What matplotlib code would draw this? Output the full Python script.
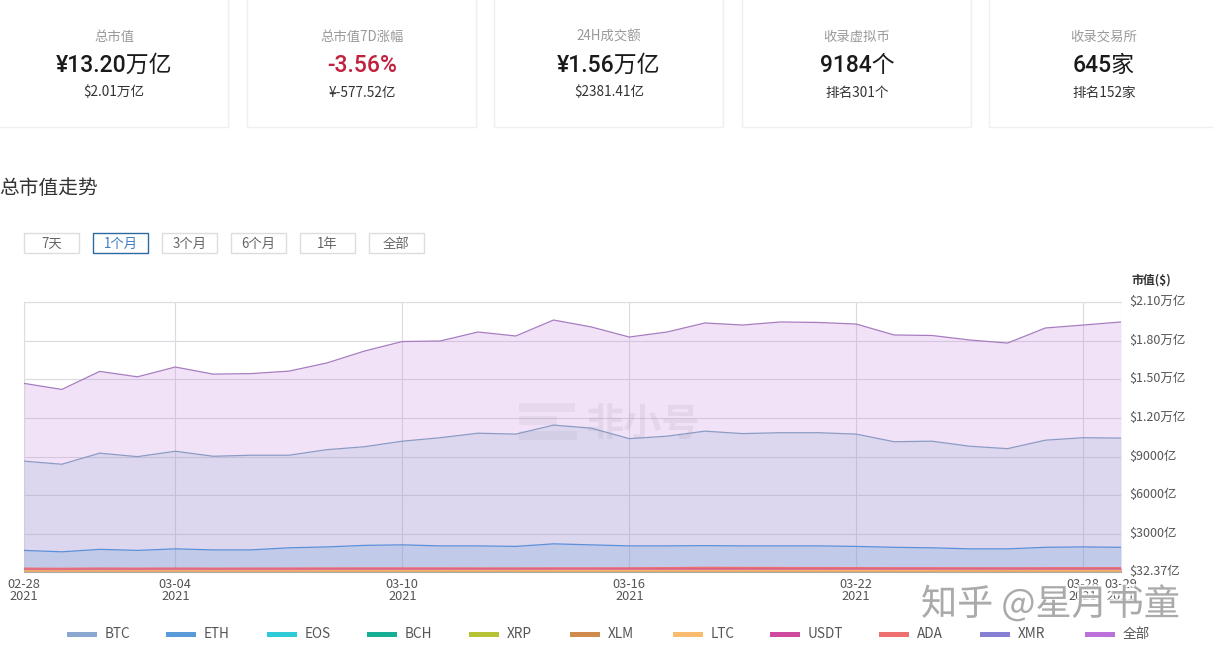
import matplotlib
matplotlib.use('Agg')
import matplotlib.pyplot as plt
import matplotlib.patheffects as pe
from matplotlib.patches import Rectangle, FancyBboxPatch
from matplotlib.transforms import offset_copy

plt.rcParams['font.family'] = ['Noto Sans CJK SC', 'DejaVu Sans']
num_font = ['Roboto', 'Noto Sans CJK SC', 'DejaVu Sans']

# Summary cards
card_titles = ['总市值', '总市值7D涨幅', '24H成交额', '收录虚拟币', '收录交易所']
card_values = ['¥13.20万亿', '-3.56%', '¥1.56万亿', '9184个', '645家']
card_subs = ['$2.01万亿', '¥-577.52亿', '$2381.41亿', '排名301个', '排名152家']

range_buttons = ['7天', '1个月', '3个月', '6个月', '1年', '全部']

# Chart data, market cap in 亿 USD, one value per day from 02-28 to 03-29
days = list(range(30))
total = [14680, 14210, 15610, 15190, 15950, 15400, 15440, 15630, 16260, 17190,
         17930, 17970, 18670, 18360, 19600, 19060, 18280, 18670, 19370, 19210,
         19450, 19410, 19290, 18440, 18400, 18050, 17810, 18980, 19210, 19450]
btc = [8640, 8400, 9260, 8990, 9410, 9020, 9100, 9100, 9530, 9760,
       10190, 10460, 10810, 10740, 11440, 11200, 10390, 10580, 10970, 10780,
       10850, 10850, 10740, 10150, 10190, 9800, 9610, 10270, 10460, 10430]
eth = [1710, 1600, 1790, 1710, 1830, 1750, 1750, 1910, 1980, 2100,
       2140, 2060, 2060, 2020, 2220, 2140, 2060, 2060, 2080, 2060,
       2060, 2060, 2020, 1950, 1910, 1830, 1830, 1950, 1980, 1950]
ada = [330, 320, 340, 330, 340, 330, 335, 340, 345, 350,
       350, 350, 345, 345, 350, 350, 355, 370, 395, 385,
       380, 375, 370, 360, 360, 355, 350, 360, 365, 365]
usdt = [280, 280, 280, 285, 285, 285, 285, 290, 290, 290,
        295, 295, 295, 300, 300, 300, 305, 305, 305, 305,
        310, 310, 310, 315, 315, 315, 320, 320, 320, 320]
xrp = [190, 185, 195, 190, 200, 195, 195, 200, 200, 205,
       205, 205, 215, 215, 225, 220, 215, 220, 225, 225,
       235, 240, 250, 240, 240, 235, 230, 240, 250, 255]
ltc = [115, 110, 120, 115, 125, 120, 120, 120, 125, 130,
       130, 130, 135, 130, 140, 140, 130, 130, 135, 130,
       130, 130, 130, 125, 125, 120, 120, 125, 125, 125]
xlm = [85, 80, 90, 85, 90, 85, 85, 85, 90, 90,
       95, 95, 95, 95, 95, 90, 85, 85, 90, 90,
       90, 90, 85, 85, 85, 80, 80, 85, 90, 90]
bch = [95, 90, 100, 95, 100, 95, 95, 95, 100, 100,
       105, 105, 105, 105, 110, 105, 100, 100, 105, 100,
       100, 100, 100, 95, 95, 90, 85, 90, 95, 95]
xmr = [40, 38, 40, 38, 40, 38, 38, 38, 40, 40,
       42, 42, 42, 42, 42, 40, 40, 40, 40, 40,
       40, 40, 40, 38, 38, 38, 36, 38, 38, 38]
eos = [35, 33, 35, 33, 35, 33, 33, 33, 35, 35,
       37, 37, 37, 37, 38, 36, 35, 35, 35, 35,
       35, 35, 35, 33, 33, 33, 32, 33, 33, 33]

date_ticks = [0, 4, 10, 16, 22, 28, 29]
date_labels = ['02-28\n2021', '03-04\n2021', '03-10\n2021', '03-16\n2021',
               '03-22\n2021', '03-28\n2021', '03-29\n2021']
y_ticks = [32.37, 3000, 6000, 9000, 12000, 15000, 18000, 21000]
y_labels = ['$32.37亿', '$3000亿', '$6000亿', '$9000亿', '$1.20万亿',
            '$1.50万亿', '$1.80万亿', '$2.10万亿']

legend_names = ['BTC', 'ETH', 'EOS', 'BCH', 'XRP', 'XLM', 'LTC', 'USDT', 'ADA', 'XMR', '全部']
legend_colors = ['#8aa8cf', '#5b9ad9', '#2fcbd8', '#17ae96', '#b5c334', '#cf8b4e',
                 '#f8bb6f', '#cf4a9e', '#ee6f70', '#8580d4', '#bb71d9']
series_color = dict(zip(legend_names, legend_colors))

W, H = 1213, 651
fig = plt.figure(figsize=(W / 100, H / 100), dpi=100, facecolor='white')

# Chart area
ax = fig.add_axes([24 / W, 1 - 572 / H, 1097 / W, 270 / H], zorder=1)
ax.set_facecolor('white')

# tan coins go last so the bottom band reads orange like the original
layers = [('全部', total), ('BTC', btc), ('ETH', eth), ('USDT', usdt), ('ADA', ada),
          ('XRP', xrp), ('EOS', eos), ('XMR', xmr), ('BCH', bch), ('XLM', xlm), ('LTC', ltc)]
line_tint = {'全部': '#a77cc0', 'BTC': '#8b9cc4', 'ETH': '#5b90d8'}
for i, (name, vals) in enumerate(layers):
    c = series_color[name]
    big = name in line_tint
    if name in ('EOS', 'XMR', 'BCH', 'XRP'):
        continue_alpha = 0.25
    else:
        continue_alpha = 0.2 if big else 0.55
    ax.fill_between(days, 0, vals, color=c, alpha=continue_alpha, lw=0, zorder=3 + i)
    if name in ('全部', 'BTC', 'ETH', 'ADA', 'USDT', 'XLM', 'LTC'):
        ax.plot(days, vals, color=line_tint.get(name, c), lw=0.9, zorder=3 + i)

ax.set_xlim(0, 29)
ax.set_ylim(32.37, 21000)
ax.set_xticks(date_ticks)
ax.set_xticklabels(date_labels, fontsize=9.2, color='#555555', linespacing=0.9)
ax.yaxis.tick_right()
ax.set_yticks(y_ticks)
ax.set_yticklabels(y_labels, fontsize=9, color='#555555')
ax.tick_params(axis='x', length=0, pad=4)
ax.tick_params(axis='y', length=0, pad=6)
for lab in ax.get_yticklabels():
    lab.set_transform(offset_copy(lab.get_transform(), fig=fig, y=2, units='dots'))
ax.grid(True, color='#dcdae0', lw=0.8, zorder=1)
ax.set_axisbelow(True)
for s in ['top', 'left']:
    ax.spines[s].set_color('#dddddd')
ax.spines['right'].set_visible(False)
ax.spines['bottom'].set_color('#aaaaaa')
ax.spines['bottom'].set_zorder(20)

# Page furniture in pixel coordinates
ov = fig.add_axes([0, 0, 1, 1], zorder=2)
ov.set_xlim(0, W)
ov.set_ylim(H, 0)
ov.axis('off')
ov.patch.set_alpha(0)

card_left = [-20, 247, 494, 742, 989]
card_right = [228, 476, 723, 971, 1240]
card_center = [114, 362, 609, 857, 1104]
for i in range(5):
    ov.add_patch(Rectangle((card_left[i], -10), card_right[i] - card_left[i], 137,
                           fc='white', ec='#efefef', lw=1))
    ov.text(card_center[i], 37, card_titles[i], ha='center', va='center', fontsize=9.6, color='#999999')
    ov.text(card_center[i], 65, card_values[i], ha='center', va='center', fontsize=16.5,
            family=num_font, fontweight='medium', color='#c0213f' if i == 1 else '#1a1a1a')
    ov.text(card_center[i], 92.5, card_subs[i], ha='center', va='center', fontsize=9.8, color='#333333')

ov.text(-1, 188.5, '总市值走势', ha='left', va='center', fontsize=14.2, color='#333333')

button_left = [24, 93, 162, 231, 300, 369]
for i, label in enumerate(range_buttons):
    active = i == 1
    ov.add_patch(Rectangle((button_left[i], 233), 55, 20, fc='white',
                           ec='#2b6a9f' if active else '#dddddd', lw=1))
    ov.text(button_left[i] + 27.5, 244, label, ha='center', va='center', fontsize=9.6,
            color='#3b7fc0' if active else '#666666')

ov.text(1131, 280, '市值($)', ha='left', va='center', fontsize=8.6, color='#333333', fontweight='bold')

legend_left = [67, 166, 267, 367, 469, 570, 673, 770, 879, 980, 1085]
for i, name in enumerate(legend_names):
    ov.add_patch(Rectangle((legend_left[i], 632), 30, 5, fc=legend_colors[i], ec='none'))
    ov.text(legend_left[i] + 38, 634, name, ha='left', va='center', fontsize=9.8, color='#555555')

# Watermarks
wm = '#8a8a9a'
for y0, w0 in [(404, 54), (417, 36), (432, 56)]:
    ov.add_patch(FancyBboxPatch((520, y0), w0, 7, boxstyle='round,pad=1', fc=wm, ec='none', alpha=0.1))
ov.text(585, 424, '非小号', ha='left', va='center', fontsize=27.5, color=wm, alpha=0.13, fontweight='bold')

halo = [pe.withStroke(linewidth=3, foreground='white', alpha=0.75)]
ov.text(921, 604, '知乎 @星月书童', ha='left', va='center', fontsize=26, color='#aaaaaa', path_effects=halo)

fig.savefig('out.png', dpi=100, facecolor='white')
